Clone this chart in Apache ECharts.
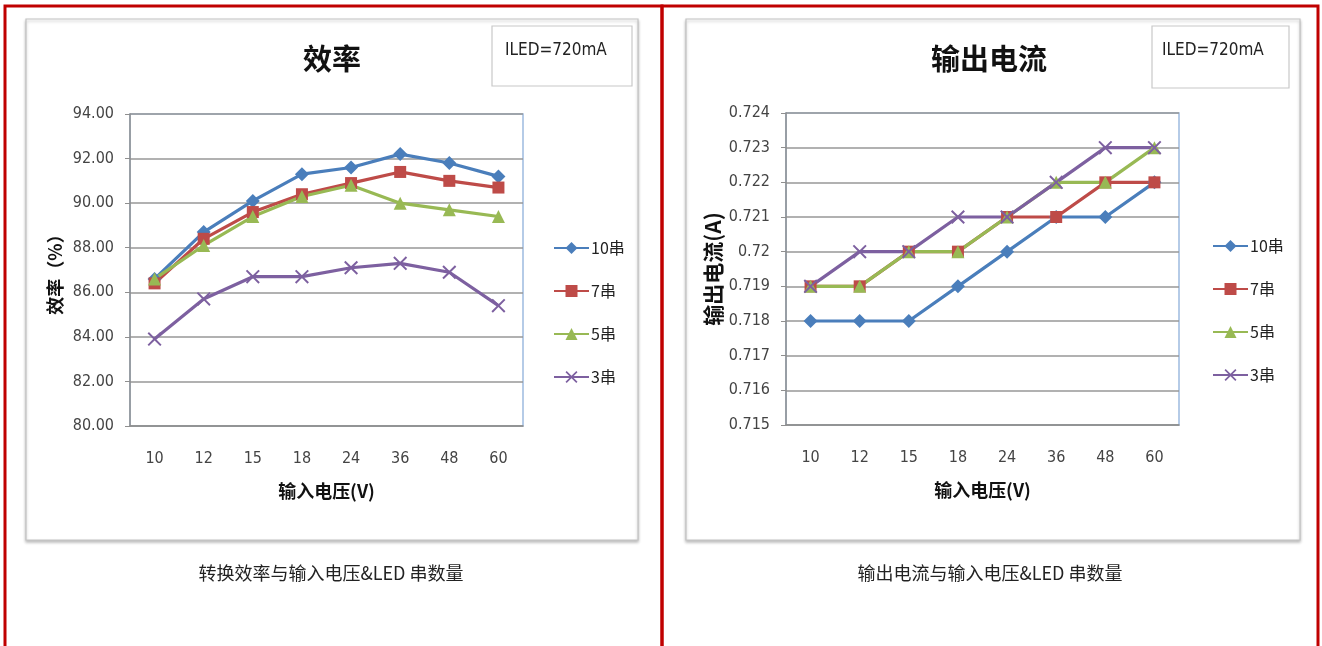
<!DOCTYPE html>
<html>
<head>
<meta charset="utf-8">
<script src="https://cdn.jsdelivr.net/npm/echarts@6/dist/echarts.min.js"></script>
<style>
  html, body { margin: 0; padding: 0; background: #fff; }
  #chart { width: 1322px; height: 646px; }
</style>
</head>
<body>
<div id="chart"></div>
<script>
// Input voltage categories (V)
const voltages = ['10', '12', '15', '18', '24', '36', '48', '60'];
// LED string counts
const stringNames = ['10串', '7串', '5串', '3串'];

// Conversion efficiency (%)
const eff10 = [86.6, 88.7, 90.1, 91.3, 91.6, 92.2, 91.8, 91.2];
const eff7  = [86.4, 88.4, 89.6, 90.4, 90.9, 91.4, 91.0, 90.7];
const eff5  = [86.6, 88.1, 89.4, 90.3, 90.8, 90.0, 89.7, 89.4];
const eff3  = [83.9, 85.7, 86.7, 86.7, 87.1, 87.3, 86.9, 85.4];

// Output current (A)
const cur10 = [0.718, 0.718, 0.718, 0.719, 0.720, 0.721, 0.721, 0.722];
const cur7  = [0.719, 0.719, 0.720, 0.720, 0.721, 0.721, 0.722, 0.722];
const cur5  = [0.719, 0.719, 0.720, 0.720, 0.721, 0.722, 0.722, 0.723];
const cur3  = [0.719, 0.720, 0.720, 0.721, 0.721, 0.722, 0.723, 0.723];

const colors = ['#4a7ebb', '#be4b48', '#98b954', '#7d60a0'];
const crossPath = 'path://M1,0L5,4L9,0L10,1L6,5L10,9L9,10L5,6L1,10L0,9L4,5L0,1Z';
const symbols = ['diamond', 'rect', 'triangle', crossPath];
const symbolSizes = [14, 12, 13, 14];

const latin = '"Liberation Sans Narrow", "DejaVu Sans Condensed", "Liberation Sans", sans-serif';
const cjk = '"Noto Sans CJK SC", "Noto Sans", sans-serif';

const chart = echarts.init(document.getElementById('chart'));

function makeSeries(name, idx, data, axisIdx) {
  return {
    name: name,
    type: 'line',
    xAxisIndex: axisIdx,
    yAxisIndex: axisIdx,
    data: data,
    color: colors[idx],
    symbol: symbols[idx],
    symbolSize: symbolSizes[idx],
    showAllSymbol: true,
    lineStyle: { width: 3.2, color: colors[idx] },
    itemStyle: { color: colors[idx] },
    emphasis: { disabled: true },
    animation: false
  };
}

function xAxisFor(gridIdx) {
  return {
    type: 'category',
    gridIndex: gridIdx,
    data: voltages,
    boundaryGap: true,
    axisLine: { lineStyle: { color: '#8f8f8f', width: 1.5 } },
    axisTick: { show: false },
    axisLabel: { margin: 25, fontFamily: latin, fontSize: 16, color: '#444' },
    name: '输入电压(V)',
    nameLocation: 'middle',
    nameGap: 56,
    nameTextStyle: { fontFamily: cjk, fontSize: 18, fontWeight: 'bold', color: '#111' }
  };
}

const gridLine = { show: true, lineStyle: { color: '#979797', width: 1.5 } };

function legendAt(left, top) {
  return {
    orient: 'vertical', left: left, top: top, itemWidth: 35, itemHeight: 15, itemGap: 27,
    data: stringNames, selectedMode: false,
    textStyle: { fontFamily: cjk, fontSize: 16, color: '#222', padding: [0, 0, 0, -3] }
  };
}

const option = {
  backgroundColor: '#fff',
  animation: false,
  title: [
    { text: '效率', left: 303, top: 44, padding: 0,
      textStyle: { fontFamily: cjk, fontSize: 29, fontWeight: 'bold', color: '#111' } },
    { text: '输出电流', left: 931, top: 44, padding: 0,
      textStyle: { fontFamily: cjk, fontSize: 29, fontWeight: 'bold', color: '#111' } }
  ],
  legend: [legendAt(548, 235), legendAt(1207, 233)],
  grid: [
    { left: 130, top: 114, width: 393, height: 312, show: true,
      borderColor: '#9dbbe0', borderWidth: 1.5, backgroundColor: 'transparent' },
    { left: 786, top: 113, width: 393, height: 312, show: true,
      borderColor: '#9dbbe0', borderWidth: 1.5, backgroundColor: 'transparent' }
  ],
  xAxis: [xAxisFor(0), xAxisFor(1)],
  yAxis: [
    {
      type: 'value', gridIndex: 0, min: 80, max: 94, interval: 2,
      axisLine: { show: true, lineStyle: { color: '#8f8f8f', width: 1.5 } },
      axisTick: { show: true, length: 5, lineStyle: { color: '#8f8f8f' } },
      splitLine: gridLine,
      axisLabel: { margin: 16, fontFamily: latin, fontSize: 16, color: '#444',
        formatter: v => v.toFixed(2) },
      name: '效率（%）', nameLocation: 'middle', nameGap: 66, nameRotate: 90,
      nameTextStyle: { fontFamily: cjk, fontSize: 18, fontWeight: 'bold', color: '#111' }
    },
    {
      type: 'value', gridIndex: 1, min: 0.715, max: 0.724, interval: 0.001,
      axisLine: { show: true, lineStyle: { color: '#8f8f8f', width: 1.5 } },
      axisTick: { show: true, length: 5, lineStyle: { color: '#8f8f8f' } },
      splitLine: gridLine,
      axisLabel: { margin: 16, fontFamily: latin, fontSize: 16, color: '#444',
        formatter: v => String(parseFloat(v.toFixed(3))) },
      name: '输出电流(A)', nameLocation: 'middle', nameGap: 62, nameRotate: 90,
      nameTextStyle: { fontFamily: cjk, fontSize: 21, fontWeight: 'bold', color: '#111' }
    }
  ],
  series: [
    makeSeries(stringNames[0], 0, eff10, 0),
    makeSeries(stringNames[1], 1, eff7, 0),
    makeSeries(stringNames[2], 2, eff5, 0),
    makeSeries(stringNames[3], 3, eff3, 0),
    makeSeries(stringNames[0], 0, cur10, 1),
    makeSeries(stringNames[1], 1, cur7, 1),
    makeSeries(stringNames[2], 2, cur5, 1),
    makeSeries(stringNames[3], 3, cur3, 1)
  ],
  graphic: [
    // page frame
    { type: 'rect', silent: true, shape: { x: 5, y: 6, width: 657, height: 660 },
      style: { fill: 'none', stroke: '#c00000', lineWidth: 3 } },
    { type: 'rect', silent: true, shape: { x: 662, y: 6, width: 656, height: 660 },
      style: { fill: 'none', stroke: '#c00000', lineWidth: 3 } },
    // chart boxes
    { type: 'rect', silent: true, z: -1, shape: { x: 26, y: 19, width: 612, height: 521 },
      style: { fill: '#fff', stroke: '#c4c4c4', lineWidth: 1.2,
        shadowColor: 'rgba(0,0,0,0.25)', shadowBlur: 3, shadowOffsetY: 2 } },
    { type: 'rect', silent: true, z: -1, shape: { x: 686, y: 19, width: 614, height: 521 },
      style: { fill: '#fff', stroke: '#c4c4c4', lineWidth: 1.2,
        shadowColor: 'rgba(0,0,0,0.25)', shadowBlur: 3, shadowOffsetY: 2 } },
    // annotation boxes
    { type: 'rect', silent: true, shape: { x: 492, y: 26, width: 140, height: 60 },
      style: { fill: 'none', stroke: '#c8c8c8', lineWidth: 1.2 } },
    { type: 'text', silent: true, x: 505, y: 51,
      style: { text: 'ILED=720mA', font: '17px ' + latin, fill: '#222', verticalAlign: 'middle' } },
    { type: 'rect', silent: true, shape: { x: 1152, y: 26, width: 137, height: 62 },
      style: { fill: 'none', stroke: '#c8c8c8', lineWidth: 1.2 } },
    { type: 'text', silent: true, x: 1162, y: 51,
      style: { text: 'ILED=720mA', font: '17px ' + latin, fill: '#222', verticalAlign: 'middle' } },
    // captions
    { type: 'text', silent: true, x: 331, y: 573,
      style: { text: '转换效率与输入电压&LED 串数量', font: '18px ' + cjk, fill: '#222',
        align: 'center', verticalAlign: 'middle' } },
    { type: 'text', silent: true, x: 990, y: 573,
      style: { text: '输出电流与输入电压&LED 串数量', font: '18px ' + cjk, fill: '#222',
        align: 'center', verticalAlign: 'middle' } }
  ]
};

chart.setOption(option);
</script>
</body>
</html>
